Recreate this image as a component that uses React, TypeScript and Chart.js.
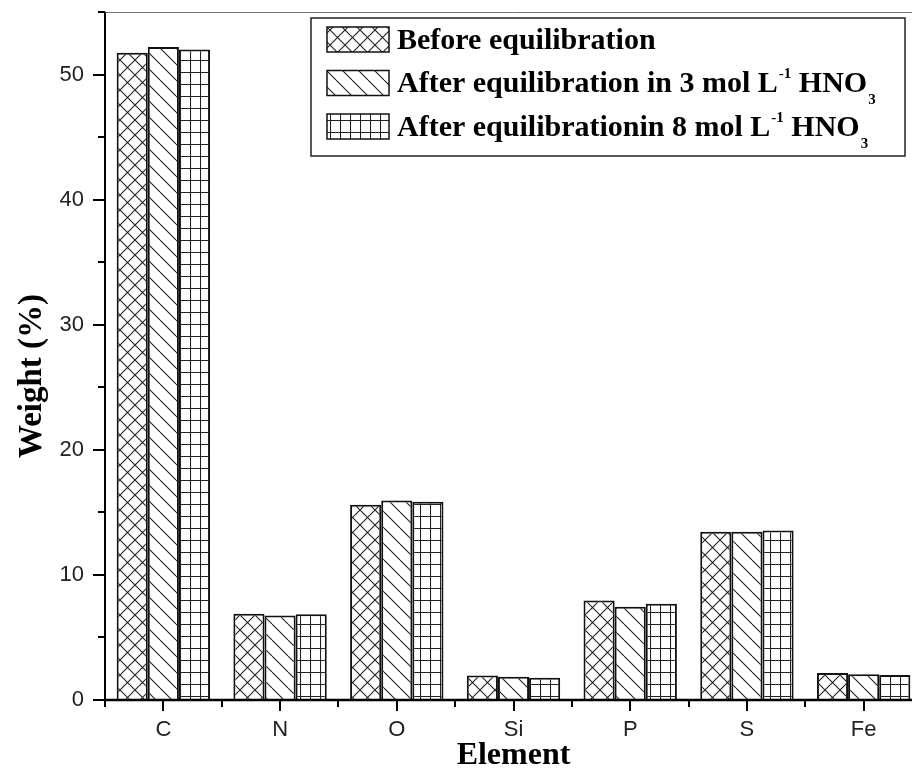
import { useEffect, useRef } from 'react';
import { Chart, registerables } from 'chart.js';

Chart.register(...registerables);

const categories = ['C', 'N', 'O', 'Si', 'P', 'S', 'Fe'];
const beforeEq = [51.75, 6.9, 15.6, 1.95, 7.95, 13.45, 2.15];
const after3 = [52.2, 6.75, 15.95, 1.85, 7.45, 13.45, 2.05];
const after8 = [52.0, 6.85, 15.85, 1.78, 7.7, 13.55, 2.0];
const yMin = 0;
const yMax = 55;
const yStep = 5;
const yLabelEvery = 10;
const xTitle = 'Element';
const yTitle = 'Weight (%)';

type Seg = { t: string; sup?: boolean; sub?: boolean };
const legendRows: Seg[][] = [
  [{ t: 'Before equilibration' }],
  [{ t: 'After equilibration in 3 mol L' }, { t: '-1', sup: true }, { t: ' HNO' }, { t: '3', sub: true }],
  [{ t: 'After equilibrationin 8 mol L' }, { t: '-1', sup: true }, { t: ' HNO' }, { t: '3', sub: true }],
];

function makePattern(kind: 'cross' | 'diag' | 'grid'): CanvasPattern | string {
  const c = document.createElement('canvas');
  let w = 15, h = 15;
  if (kind === 'diag') { w = 16; h = 16; }
  if (kind === 'grid') { w = 10; h = 12; }
  c.width = w; c.height = h;
  const g = c.getContext('2d');
  if (!g) return '#fff';
  g.fillStyle = '#fff';
  g.fillRect(0, 0, w, h);
  g.strokeStyle = '#222';
  g.lineWidth = 1.1;
  g.beginPath();
  if (kind === 'cross' || kind === 'diag') {
    for (const o of [-w, 0, w]) {
      g.moveTo(o, 0); g.lineTo(o + w, h);
    }
  }
  if (kind === 'cross') {
    for (const o of [-w, 0, w]) {
      g.moveTo(o + w, 0); g.lineTo(o, h);
    }
  }
  if (kind === 'grid') {
    g.moveTo(0.5, 0); g.lineTo(0.5, h);
    g.moveTo(0, 0.5); g.lineTo(w, 0.5);
  }
  g.stroke();
  const p = g.createPattern(c, 'repeat');
  return p || '#fff';
}

const serif = '"Liberation Serif", "Times New Roman", serif';

const decorPlugin = {
  id: 'decor',
  afterDraw(chart: any) {
    const ctx: CanvasRenderingContext2D = chart.ctx;
    const { left, right, top, bottom } = chart.chartArea;
    const xs = chart.scales.x;
    const ys = chart.scales.y;
    ctx.save();
    // top frame line
    ctx.strokeStyle = '#777';
    ctx.lineWidth = 1;
    ctx.beginPath();
    ctx.moveTo(left, top + 0.5);
    ctx.lineTo(right, top + 0.5);
    ctx.stroke();
    // y axis + ticks
    ctx.strokeStyle = '#000';
    ctx.lineWidth = 2;
    ctx.beginPath();
    ctx.moveTo(left, top);
    ctx.lineTo(left, bottom + 1);
    ctx.stroke();
    ys.ticks.forEach((t: any) => {
      const py = Math.round(ys.getPixelForValue(t.value));
      const len = t.value % yLabelEvery === 0 ? 12 : 7;
      ctx.beginPath();
      ctx.moveTo(left - len, py);
      ctx.lineTo(left, py);
      ctx.stroke();
    });
    // x axis + ticks
    ctx.lineWidth = 2.5;
    ctx.beginPath();
    ctx.moveTo(left - 1, bottom);
    ctx.lineTo(right, bottom);
    ctx.stroke();
    ctx.lineWidth = 2;
    for (let i = 0; i < categories.length; i++) {
      const cx = Math.round(xs.getPixelForValue(i));
      ctx.beginPath();
      ctx.moveTo(cx, bottom);
      ctx.lineTo(cx, bottom + 11);
      ctx.stroke();
    }
    for (let i = 0; i <= categories.length; i++) {
      const bx = Math.round(xs.getPixelForValue(i - 0.5));
      ctx.beginPath();
      ctx.moveTo(bx, bottom);
      ctx.lineTo(bx, bottom + 7);
      ctx.stroke();
    }
    // axis titles
    ctx.fillStyle = '#000';
    ctx.font = `bold 32px ${serif}`;
    ctx.textAlign = 'center';
    ctx.textBaseline = 'alphabetic';
    ctx.fillText(xTitle, (left + right) / 2, 764);
    ctx.save();
    ctx.translate(41, 376);
    ctx.rotate(-Math.PI / 2);
    ctx.font = `bold 33px ${serif}`;
    ctx.fillText(yTitle, 0, 0);
    ctx.restore();
    // legend
    const bx0 = 311, by0 = 18, bw = 594, bh = 138;
    ctx.fillStyle = '#fff';
    ctx.fillRect(bx0, by0, bw, bh);
    ctx.strokeStyle = '#222';
    ctx.lineWidth = 1.5;
    ctx.strokeRect(bx0, by0, bw, bh);
    ctx.textAlign = 'left';
    legendRows.forEach((row, i) => {
      const sy = 27 + i * 43.5;
      const ds = chart.data.datasets[i];
      ctx.fillStyle = ds.backgroundColor;
      ctx.fillRect(327, sy, 62, 25);
      ctx.strokeStyle = '#111';
      ctx.lineWidth = 1.5;
      ctx.strokeRect(327, sy, 62, 25);
      let x = 397;
      const base = sy + 21.7;
      ctx.fillStyle = '#000';
      row.forEach((s) => {
        if (s.sup || s.sub) {
          ctx.font = `bold 15px ${serif}`;
          const yy = s.sup ? base - 14 : base + 12;
          ctx.fillText(s.t, x + 1, yy);
          x += ctx.measureText(s.t).width + 1;
        } else {
          ctx.font = `bold 30px ${serif}`;
          ctx.fillText(s.t, x, base);
          x += ctx.measureText(s.t).width;
        }
      });
    });
    ctx.restore();
  },
};

export default function App() {
  const ref = useRef<HTMLCanvasElement | null>(null);
  useEffect(() => {
    if (!ref.current) return;
    const chart = new Chart(ref.current, {
      type: 'bar',
      data: {
        labels: categories,
        datasets: [
          { label: 'Before equilibration', data: beforeEq, backgroundColor: makePattern('cross') as any },
          { label: 'After equilibration in 3 mol L-1 HNO3', data: after3, backgroundColor: makePattern('diag') as any },
          { label: 'After equilibrationin 8 mol L-1 HNO3', data: after8, backgroundColor: makePattern('grid') as any },
        ].map((d) => ({
          ...d,
          borderColor: '#111',
          borderWidth: 2,
          borderSkipped: 'bottom' as const,
          categoryPercentage: 0.8,
          barPercentage: 1.0,
        })),
      },
      options: {
        responsive: false,
        animation: false,
        devicePixelRatio: 1,
        layout: { padding: { left: 0, top: 12, right: 18, bottom: 0 } },
        plugins: { legend: { display: false }, tooltip: { enabled: false } },
        scales: {
          x: {
            type: 'category',
            offset: true,
            grid: { display: false },
            border: { display: false },
            ticks: {
              color: '#222',
              padding: 9,
              font: { family: '"Liberation Sans", Arial, sans-serif', size: 22 },
              maxRotation: 0,
              autoSkip: false,
            },
            afterFit: (s: any) => {
              s.height = 68;
              s.paddingLeft = 0; s.paddingRight = 0; s.paddingTop = 0; s.paddingBottom = 0;
            },
          },
          y: {
            min: yMin,
            max: yMax,
            grid: { display: false },
            border: { display: false },
            ticks: {
              stepSize: yStep,
              color: '#222',
              padding: 13,
              font: { family: '"Liberation Sans", Arial, sans-serif', size: 22 },
              callback: (v: any) => (Number(v) % yLabelEvery === 0 ? String(v) : ''),
            },
            afterFit: (s: any) => {
              s.width = 105;
              s.paddingLeft = 0; s.paddingRight = 0; s.paddingTop = 0; s.paddingBottom = 0;
            },
          },
        },
      },
      plugins: [decorPlugin],
    });
    return () => chart.destroy();
  }, []);
  return (
    <div style={{ position: 'fixed', left: 0, top: 0, width: 912, height: 768, overflow: 'hidden', background: '#fff' }}>
      <canvas ref={ref} width={940} height={768} style={{ width: 940, height: 768, display: 'block' }} />
    </div>
  );
}
